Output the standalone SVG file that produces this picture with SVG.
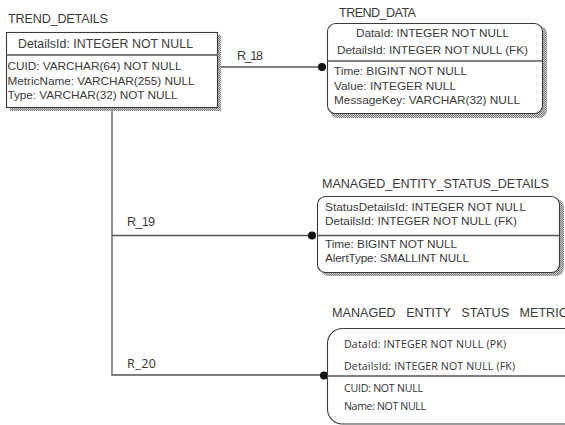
<svg xmlns="http://www.w3.org/2000/svg" width="565" height="425" viewBox="0 0 565 425">
<defs>
<pattern id="stip" width="2" height="2" patternUnits="userSpaceOnUse"><rect width="2" height="2" fill="#d4d4d4"/><rect width="1" height="1" fill="#777"/><rect x="1" y="1" width="1" height="1" fill="#777"/></pattern>
</defs>
<style>
.t{font-family:"Liberation Sans",Arial,sans-serif;font-size:11.8px;fill:#3a3a3a}
.ttl{font-family:"Liberation Sans",Arial,sans-serif;font-size:12.6px;fill:#3a3a3a}
.c{font-family:"Open Sans","Liberation Sans",sans-serif;font-size:10.6px;fill:#333}
.lbl{font-family:"Open Sans","Liberation Sans",sans-serif;font-size:12.5px;fill:#333}
.box{fill:#fff;stroke:#3a3a3a;stroke-width:1.1}
.ln{stroke:#555;stroke-width:1.3;fill:none}
.dot{fill:#111}
</style>
<rect width="565" height="425" fill="#fff"/>
<g id="connectors">
<path class="ln" d="M218 67H322"/>
<path class="ln" d="M112 108V375H324"/>
<path class="ln" d="M112 235.5H312"/>
<circle class="dot" cx="322" cy="67" r="4"/>
<circle class="dot" cx="312" cy="235.5" r="4"/>
<circle class="dot" cx="324" cy="375.5" r="4"/>
<text class="ttl" x="237" y="60" textLength="26">R_18</text>
<text class="ttl" x="127" y="226" textLength="28">R_19</text>
<text class="lbl" x="127" y="368" textLength="29">R_20</text>
</g>
<g id="trend_details">
<text class="ttl" x="8" y="23" textLength="100">TREND_DETAILS</text>
<rect x="10" y="35" width="211" height="76" fill="url(#stip)"/>
<rect class="box" x="6.5" y="32.5" width="211" height="75"/>
<path class="ln" d="M6.5 55H217.5"/>
<text class="t" x="18" y="48" style="font-size:12.3px" textLength="175">DetailsId: INTEGER NOT NULL</text>
<text class="t" x="7.5" y="70" textLength="174">CUID: VARCHAR(64) NOT NULL</text>
<text class="t" x="7.5" y="85" textLength="187">MetricName: VARCHAR(255) NULL</text>
<text class="t" x="7.5" y="99" textLength="170">Type: VARCHAR(32) NOT NULL</text>
</g>
<g id="trend_data">
<text class="ttl" x="339" y="17" textLength="77">TREND_DATA</text>
<rect x="330" y="26" width="217" height="92" rx="8" fill="url(#stip)"/>
<rect class="box" x="327.5" y="23.5" width="215" height="90" rx="8"/>
<path class="ln" d="M327.5 61H542.5"/>
<text class="t" x="356" y="37" textLength="153">DataId: INTEGER NOT NULL</text>
<text class="t" x="337" y="54" textLength="191">DetailsId: INTEGER NOT NULL (FK)</text>
<text class="t" x="334" y="75" textLength="133">Time: BIGINT NOT NULL</text>
<text class="t" x="334" y="90" textLength="122">Value: INTEGER NULL</text>
<text class="t" x="334" y="104" textLength="186">MessageKey: VARCHAR(32) NULL</text>
</g>
<g id="managed_entity_status_details">
<text class="ttl" x="322" y="188" textLength="227">MANAGED_ENTITY_STATUS_DETAILS</text>
<rect x="321" y="199" width="243" height="77" rx="8" fill="url(#stip)"/>
<rect class="box" x="317.5" y="196.5" width="242" height="76" rx="8"/>
<path class="ln" d="M317.5 235.5H559.5"/>
<text class="t" x="325" y="211" textLength="201">StatusDetailsId: INTEGER NOT NULL</text>
<text class="t" x="325" y="225" textLength="192">DetailsId: INTEGER NOT NULL (FK)</text>
<text class="t" x="325" y="248" textLength="132">Time: BIGINT NOT NULL</text>
<text class="t" x="325" y="262" textLength="144">AlertType: SMALLINT NULL</text>
</g>
<g id="managed_entity_status_metric">
<text class="ttl" x="332" y="317" word-spacing="7">MANAGED ENTITY STATUS METRIC</text>
<rect class="box" x="327.5" y="328.5" width="260" height="95.5" rx="15"/>
<path class="ln" d="M327.5 376H565"/>
<text class="c" x="344" y="348" textLength="162">DataId: INTEGER NOT NULL (PK)</text>
<text class="c" x="344" y="370" textLength="171">DetailsId: INTEGER NOT NULL (FK)</text>
<text class="c" x="344" y="392" textLength="79">CUID: NOT NULL</text>
<text class="c" x="344" y="410" textLength="82">Name: NOT NULL</text>
</g>
</svg>
